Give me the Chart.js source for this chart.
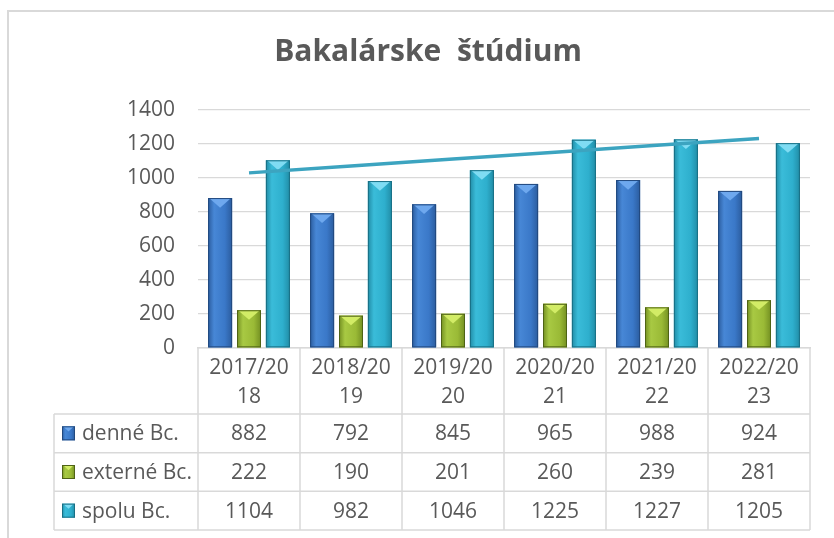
<!DOCTYPE html>
<html lang="sk">
<head>
<meta charset="utf-8">
<title>Bakalárske štúdium</title>
<script src="https://cdn.jsdelivr.net/npm/chart.js@4.4.0/dist/chart.umd.min.js"></script>
<style>
    html, body { margin: 0; padding: 0; background: #fff; overflow: hidden; }
    #wrap { position: relative; width: 834px; height: 538px; }
    #frame { position: absolute; left: 7px; top: 10px; right: -10px; bottom: -10px;
             border-top: 2px solid #d9d9d9; border-left: 2px solid #d9d9d9; }
    canvas { position: absolute; left: 0; top: 0; }
</style>
</head>
<body>
<div id="wrap">
    <div id="frame"></div>
    <canvas id="chart" width="834" height="538"></canvas>
</div>
<script>
// Values
const years = ['2017/2018', '2018/2019', '2019/2020', '2020/2021', '2021/2022', '2022/2023'];
const seriesNames = ['denné Bc.', 'externé Bc.', 'spolu Bc.'];
const denne = [882, 792, 845, 965, 988, 924];
const externe = [222, 190, 201, 260, 239, 281];
const spolu = [1104, 982, 1046, 1225, 1227, 1205];
const yTicks = [0, 200, 400, 600, 800, 1000, 1200, 1400];

// Bar look (Excel-like bevelled columns)
const palette = [
    { base: '#3a78c8', light: '#4787d6', tip: '#6ea8ee', dark: '#2b5c9e', edge: '#22497e' },
    { base: '#9aba36', light: '#a8c943', tip: '#d2ec66', dark: '#738f22', edge: '#4f6316' },
    { base: '#2eafcd', light: '#3abcd9', tip: '#7fdcf3', dark: '#218ca6', edge: '#196f84' }
];
const textColor = '#595959';
const lineColor = '#d9d9d9';
const font = 'Open Sans';

// Least-squares trend line over the totals (same as Excel's linear trendline)
function linearTrend(values) {
    const n = values.length;
    const mx = (n - 1) / 2;
    const my = values.reduce((a, b) => a + b, 0) / n;
    let num = 0, den = 0;
    values.forEach((v, i) => {
        num += (i - mx) * (v - my);
        den += (i - mx) * (i - mx);
    });
    const slope = num / den;
    return values.map((v, i) => my + slope * (i - mx));
}

function shadeBar(ctx, left, top, width, bottom, c) {
    const grad = ctx.createLinearGradient(left, 0, left + width, 0);
    grad.addColorStop(0, c.dark);
    grad.addColorStop(0.25, c.light);
    grad.addColorStop(0.7, c.base);
    grad.addColorStop(1, c.dark);
    ctx.fillStyle = grad;
    ctx.fillRect(left, top, width, bottom - top);

    // light triangle on the top face
    const h = Math.min(width * 0.4, bottom - top);
    ctx.beginPath();
    ctx.moveTo(left + 1, top);
    ctx.lineTo(left + width - 1, top);
    ctx.lineTo(left + width / 2, top + h);
    ctx.closePath();
    ctx.fillStyle = c.tip;
    ctx.fill();

    ctx.strokeStyle = c.edge;
    ctx.lineWidth = 1;
    ctx.strokeRect(left + 0.5, top + 0.5, width - 1, bottom - top - 1);
}

const barShading = {
    id: 'barShading',
    afterDatasetDraw(chart, args) {
        const meta = args.meta;
        if (meta.type !== 'bar') return;
        const c = palette[args.index];
        const ctx = chart.ctx;
        ctx.save();
        meta.data.forEach(el => {
            const p = el.getProps(['x', 'y', 'base', 'width'], true);
            shadeBar(ctx, p.x - p.width / 2, p.y, p.width, p.base, c);
        });
        ctx.restore();
    }
};

// Data table under the axis
const dataTable = {
    id: 'dataTable',
    afterDraw(chart) {
        const ctx = chart.ctx;
        const xs = chart.scales.x;
        const area = chart.chartArea;
        const n = years.length;
        const colW = (area.right - area.left) / n;
        const tableLeft = 54;
        const rowTop = xs.bottom;
        const tableBottom = 530;
        const rowH = (tableBottom - rowTop) / seriesNames.length;
        const rows = [denne, externe, spolu];

        ctx.save();
        ctx.strokeStyle = lineColor;
        ctx.lineWidth = 1.5;
        ctx.beginPath();
        for (let i = 0; i <= n; i++) {
            const x = area.left + i * colW;
            ctx.moveTo(x, area.bottom);
            ctx.lineTo(x, tableBottom);
        }
        ctx.moveTo(tableLeft, rowTop);
        ctx.lineTo(tableLeft, tableBottom);
        for (let r = 0; r <= rows.length; r++) {
            const y = rowTop + r * rowH;
            ctx.moveTo(tableLeft, y);
            ctx.lineTo(area.right, y);
        }
        ctx.stroke();

        ctx.font = '21px "' + font + '"';
        ctx.textBaseline = 'middle';
        rows.forEach((vals, r) => {
            const cy = rowTop + r * rowH + rowH / 2;
            // legend key
            shadeBar(ctx, 62, cy - 7, 13, cy + 7, palette[r]);
            ctx.fillStyle = textColor;
            ctx.textAlign = 'left';
            ctx.fillText(seriesNames[r], 82, cy + 1);
            ctx.textAlign = 'center';
            vals.forEach((v, i) => {
                ctx.fillText(String(v), xs.getPixelForValue(i), cy + 1);
            });
        });
        ctx.restore();
    }
};

const barDatasets = [denne, externe, spolu].map((vals, i) => ({
    type: 'bar',
    label: seriesNames[i],
    data: vals,
    backgroundColor: palette[i].base,
    categoryPercentage: 0.85,
    barPercentage: 0.83,
    order: 1
}));

new Chart(document.getElementById('chart'), {
    data: {
        labels: years,
        datasets: [
            ...barDatasets,
            {
                type: 'line',
                label: 'Lineárny (spolu Bc.)',
                data: linearTrend(spolu),
                borderColor: '#3ca4c0',
                borderWidth: 3.5,
                pointRadius: 0,
                fill: false,
                order: 0
            }
        ]
    },
    options: {
        responsive: false,
        animation: false,
        layout: { padding: { top: 0, left: 46, right: 24, bottom: 124 } },
        plugins: {
            legend: { display: false },
            tooltip: { enabled: false },
            title: {
                display: true,
                text: 'Bakalárske  štúdium',
                color: textColor,
                font: { family: font, size: 30, weight: 'bold' },
                padding: { top: 34, bottom: 40 }
            }
        },
        scales: {
            x: {
                offset: true,
                grid: { display: false, drawTicks: false },
                border: { display: true, color: lineColor, width: 1.5 },
                ticks: {
                    color: textColor,
                    font: { family: font, size: 21, lineHeight: 1.4 },
                    padding: 5,
                    maxRotation: 0,
                    autoSkip: false,
                    callback: function(value) {
                        const s = this.getLabelForValue(value);
                        return [s.slice(0, 7), s.slice(7)];
                    }
                },
                afterFit(scale) { scale.height = 66; }
            },
            y: {
                min: yTicks[0],
                max: yTicks[yTicks.length - 1],
                afterBuildTicks(scale) { scale.ticks = yTicks.map(v => ({ value: v })); },
                grid: { color: lineColor, lineWidth: 1.3, drawTicks: false },
                border: { display: false },
                ticks: {
                    color: textColor,
                    font: { family: font, size: 21 },
                    padding: 23,
                    callback: value => String(value)
                },
                afterFit(scale) { scale.width = 152; }
            }
        }
    },
    plugins: [barShading, dataTable]
});
</script>
</body>
</html>
